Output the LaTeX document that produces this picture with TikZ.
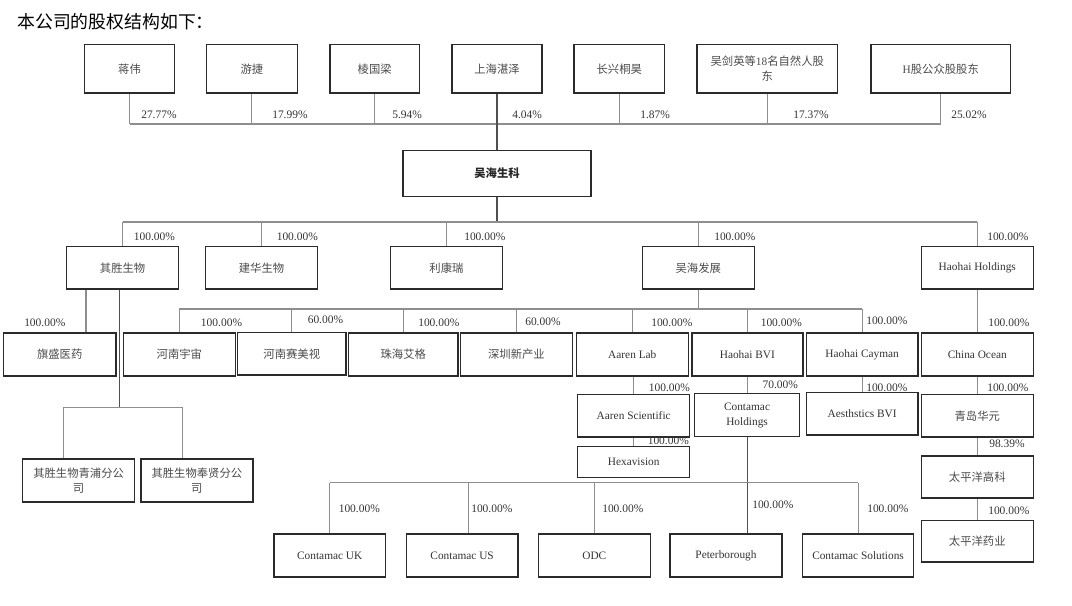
\documentclass[tikz,border=0pt]{standalone}
\usepackage{fontspec}
\setmainfont{Liberation Serif}
\newfontfamily\cj{Noto Sans CJK SC}
\definecolor{bordc}{HTML}{2B2B2B}
\definecolor{linec}{HTML}{8E8E8E}
\definecolor{dlinec}{HTML}{505050}
\definecolor{txtc}{HTML}{4A4A4A}
\definecolor{lblc}{HTML}{333333}
\tikzset{
  box/.style={draw=bordc, line width=1.05pt, inner sep=1pt, align=center, text=txtc,
    font=\cj\fontsize{8.5}{11}\selectfont},
  conn/.style={draw=linec, line width=0.8pt},
  dconn/.style={draw=dlinec, line width=0.8pt},
  lbl/.style={anchor=west, inner sep=0pt, text=lblc, font=\fontsize{8.6}{10}\selectfont},
}
\newcommand\mybox[6]{\node[box,minimum width={(#4-#2)*0.75pt},minimum height={(#5-#3)*0.75pt}] (#1) at ({(#2+#4)/2},{(#3+#5)/2}) {#6};}
\newcommand\lt{\rmfamily\color{lblc}}
\begin{document}
\begin{tikzpicture}[x=0.75pt,y=-0.75pt]
\useasboundingbox (0,0) rectangle (1072,606);
\node[anchor=west, inner sep=0pt, font=\cj\fontsize{13.4}{15}\selectfont] (title) at (17,22) {本公司的股权结构如下：};

% top shareholders
\mybox{jw}{84.4}{44.8}{174.6}{93}{蒋伟}
\mybox{yj}{206.6}{44.8}{297.2}{93}{游捷}
\mybox{lgl}{330}{44.8}{419.4}{93}{棱国梁}
\mybox{shzz}{452}{44.8}{542}{93}{上海湛泽}
\mybox{cxth}{574}{44.8}{664.5}{93}{长兴桐昊}
\mybox{wjy}{697}{44.8}{837.6}{93}{吴剑英等{\rmfamily 18}名自然人股\\东}
\mybox{hg}{871}{44.8}{1010.5}{93}{{\rmfamily H}股公众股股东}

\mybox{hhsk}{403}{150.7}{591}{196.5}{\bfseries\color{black!85}吴海生科}

% row 2
\mybox{qs}{66.5}{246.4}{178.7}{289}{其胜生物}
\mybox{jh}{205.6}{246.4}{317.5}{289}{建华生物}
\mybox{lkr}{390.5}{246.4}{502.4}{289}{利康瑞}
\mybox{hhfz}{642.3}{246.4}{754.3}{289}{吴海发展}
\mybox{hhh}{921.3}{246.4}{1033.3}{289}{\lt Haohai Holdings}

% row 3
\mybox{qsyy}{3.4}{333}{116}{376}{旗盛医药}
\mybox{hnyz}{123.3}{333}{235.5}{376}{河南宇宙}
\mybox{hnsmv}{237.6}{332.4}{346}{375}{河南赛美视}
\mybox{zhag}{348.5}{333}{458}{376}{珠海艾格}
\mybox{szxcy}{460.7}{333}{572.2}{376}{深圳新产业}
\mybox{al}{576.3}{333}{688.3}{376}{\lt Aaren Lab}
\mybox{hbvi}{691.8}{333}{803}{376}{\lt Haohai BVI}
\mybox{hcay}{806.5}{333}{917.8}{376}{\lt Haohai Cayman}
\mybox{co}{921.3}{333}{1033.3}{376}{\lt China Ocean}

% row 4
\mybox{as}{577.7}{394.4}{689.7}{437}{\lt Aaren Scientific}
\mybox{ch}{694.5}{393.7}{799.6}{436.6}{\lt Contamac\\\lt Holdings}
\mybox{abvi}{806.5}{392.7}{917.8}{435}{\lt Aesthstics BVI}
\mybox{qdhy}{921.3}{394.4}{1033.3}{437}{青岛华元}
\mybox{hexa}{577.7}{446.6}{689.7}{477.4}{\lt Hexavision}
\mybox{tpgk}{921.3}{456}{1033.3}{498}{太平洋高科}
\mybox{tpyy}{921.3}{520.6}{1033.3}{562}{太平洋药业}

% branches of qs
\mybox{qp}{22.7}{459}{134.6}{502}{其胜生物青浦分公\\司}
\mybox{fx}{140.8}{459}{253}{502}{其胜生物奉贤分公\\司}

% bottom row
\mybox{uk}{273.8}{534}{385.7}{577}{\lt Contamac UK}
\mybox{us}{406.3}{534}{517.9}{577}{\lt Contamac US}
\mybox{odc}{538.3}{534}{650.3}{577}{\lt ODC}
\mybox{pb}{670}{534}{782}{577}{\lt Peterborough}
\mybox{sol}{802.4}{534}{913.7}{577}{\lt Contamac Solutions}

% ---------- connectors ----------
\coordinate (r1) at (0,124);
\foreach \n in {jw,yj,lgl,cxth,wjy,hg} {\draw[conn] (\n.south) -- (\n.south |- r1);}
\draw[conn] (jw.south |- r1) -- (hg.south |- r1);
\draw[dconn] (shzz.south) -- (hhsk.north);

\coordinate (r2) at (0,222);
\draw[dconn] (hhsk.south) -- (hhsk.south |- r2);
\draw[conn] (qs.north |- r2) -- (hhh.north |- r2);
\foreach \n in {qs,jh,lkr,hhfz,hhh} {\draw[conn] (\n.north |- r2) -- (\n.north);}

\coordinate (qa) at (86,0);
\coordinate (qb) at (119.8,0);
\coordinate (qc) at (63.7,0);
\coordinate (qd) at (182.5,0);
\coordinate (r5) at (0,407.6);
\draw[conn] (qs.south -| qa) -- (qsyy.north -| qa);
\draw[dconn] (qs.south -| qb) -- (qb |- r5);
\draw[conn] (qp.north -| qc) -- (qc |- r5) -- (qd |- r5) -- (fx.north -| qd);

\coordinate (r3) at (0,309);
\draw[conn] (hhfz.south) -- (hhfz.south |- r3);
\draw[conn] (hnyz.north |- r3) -- (hcay.north |- r3);
\foreach \n in {hnyz,hnsmv,zhag,szxcy,al,hbvi,hcay} {\draw[conn] (\n.north |- r3) -- (\n.north);}
\draw[conn] (hhh.south) -- (co.north);

\draw[conn] (as.north |- al.south) -- (as.north);
\draw[conn] (ch.north |- hbvi.south) -- (ch.north);
\draw[conn] (abvi.north |- hcay.south) -- (abvi.north);
\draw[conn] (co.south) -- (qdhy.north);
\draw[conn] (as.south) -- (hexa.north);
\draw[conn] (qdhy.south) -- (tpgk.north);
\draw[conn] (tpgk.south) -- (tpyy.north);

\coordinate (r4) at (0,482.9);
\coordinate (usx) at (468.3,0);
\draw[dconn] (ch.south) -- (pb.north -| ch.south);
\draw[conn] (uk.north |- r4) -- (sol.north |- r4);
\draw[conn] (uk.north |- r4) -- (uk.north);
\draw[conn] (usx |- r4) -- (us.north -| usx);
\draw[conn] (odc.north |- r4) -- (odc.north);
\draw[conn] (sol.north |- r4) -- (sol.north);

% ---------- labels ----------
\node[lbl] (l1) at (141,114.5) {27.77\%};
\node[lbl] (l2) at (272,114.5) {17.99\%};
\node[lbl] (l3) at (392,114.5) {5.94\%};
\node[lbl] (l4) at (512,114.5) {4.04\%};
\node[lbl] (l5) at (640,114.5) {1.87\%};
\node[lbl] (l6) at (793,114.5) {17.37\%};
\node[lbl] (l7) at (951,114.5) {25.02\%};

\node[lbl] (m1) at (133.6,236.7) {100.00\%};
\node[lbl] (m2) at (276.5,236.7) {100.00\%};
\node[lbl] (m3) at (464,236.7) {100.00\%};
\node[lbl] (m4) at (714,236.7) {100.00\%};
\node[lbl] (m5) at (987,236.7) {100.00\%};

\node[lbl] (n0) at (24,322.5) {100.00\%};
\node[lbl] (n1) at (200.7,322.5) {100.00\%};
\node[lbl] (n2) at (307.5,320) {60.00\%};
\node[lbl] (n3) at (418,322.5) {100.00\%};
\node[lbl] (n4) at (525,322) {60.00\%};
\node[lbl] (n5) at (651,322.5) {100.00\%};
\node[lbl] (n6) at (760.5,322.5) {100.00\%};
\node[lbl] (n7) at (866,321) {100.00\%};
\node[lbl] (n8) at (988,322.5) {100.00\%};

\node[lbl] (o1) at (648.6,387.5) {100.00\%};
\node[lbl] (o2) at (762.3,385) {70.00\%};
\node[lbl] (o3) at (866,387.5) {100.00\%};
\node[lbl] (o4) at (987,387.5) {100.00\%};
\node[lbl] (o5) at (647.5,440.4) {100.00\%};
\node[lbl] (o6) at (989,443.8) {98.39\%};
\node[lbl] (o7) at (988,510.5) {100.00\%};

\node[lbl] (p1) at (338.5,508.8) {100.00\%};
\node[lbl] (p2) at (471,508.8) {100.00\%};
\node[lbl] (p3) at (602,508.8) {100.00\%};
\node[lbl] (p4) at (752,504.3) {100.00\%};
\node[lbl] (p5) at (867,508.8) {100.00\%};
\end{tikzpicture}
\end{document}
